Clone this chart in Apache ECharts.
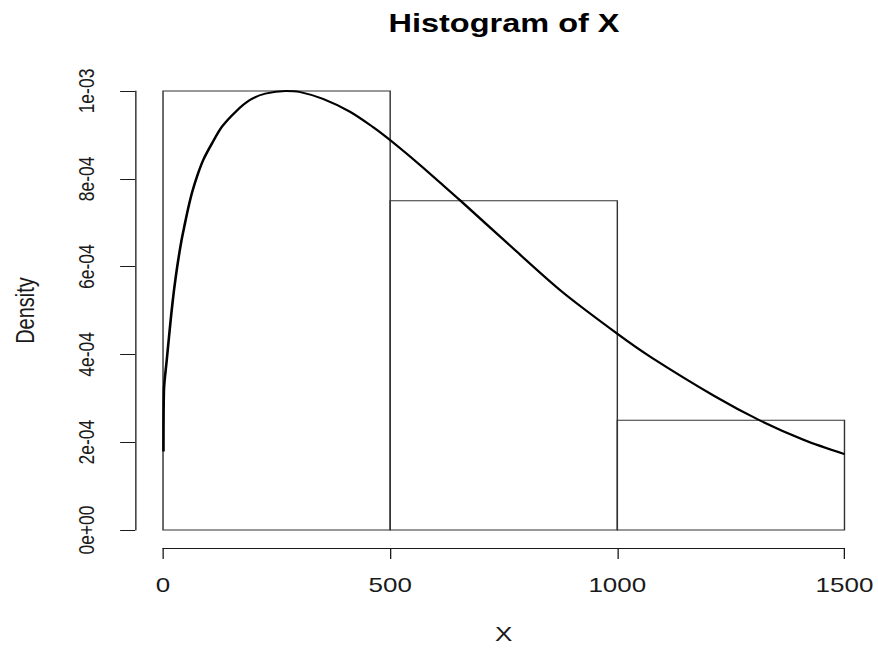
<!DOCTYPE html>
<html>
<head>
<meta charset="utf-8">
<script src="https://cdn.jsdelivr.net/npm/echarts@6/dist/echarts.min.js"></script>
<style>
  html, body { margin: 0; padding: 0; background: #fff; overflow: hidden; }
  /* the reference plot is stretched sideways, so draw narrower and widen */
  #chart { width: 675.4px; height: 649px; transform: scaleX(1.3); transform-origin: 0 0; }
</style>
</head>
<body>
<div id="chart"></div>
<script>
// histogram bins
var binStart = [0, 500, 1000]
var binEnd = [500, 1000, 1500]
var binDensity = [0.001, 0.00075, 0.00025]

// density curve
var curveX = [1, 2, 8, 13, 18, 24, 31, 40, 48, 55, 64, 75, 89, 108, 130, 162, 192, 225, 270, 300,
  352, 411, 462, 500, 564, 608, 655, 769, 878, 1000, 1075, 1214, 1313, 1411, 1500]
var curveY = [0.000179, 0.000318, 0.000385, 0.000438, 0.00049, 0.000545, 0.000598, 0.000656, 0.000697,
  0.000731, 0.000769, 0.000806, 0.000844, 0.000881, 0.000919, 0.000955, 0.00098, 0.000994, 0.001,
  0.000998, 0.000982, 0.000953, 0.000918, 0.000888, 0.000833, 0.000793, 0.00075, 0.000643, 0.000543,
  0.000447, 0.000393, 0.000305, 0.00025, 0.000205, 0.000173]

var xTicks = [0, 500, 1000, 1500]
var yTickLabels = ['0e+00', '2e-04', '4e-04', '6e-04', '8e-04', '1e-03']

var FONT = 'Liberation Sans'
var INK = '#1a1a1a'

var chart = echarts.init(document.getElementById('chart'), null, { renderer: 'svg' })

var bins = []
for (var i = 0; i < binStart.length; i++) {
  bins.push([binStart[i], binEnd[i], binDensity[i]])
}
var curve = []
for (var j = 0; j < curveX.length; j++) {
  curve.push([curveX[j], curveY[j]])
}

var option = {
  animation: false,
  title: {
    text: 'Histogram of X',
    left: 382.7,
    top: 6,
    textAlign: 'center',
    textStyle: { fontFamily: FONT, fontSize: 25, fontWeight: 'bold', color: '#000' }
  },
  grid: { left: 125.4, right: 25.4, top: 91, bottom: 115 },
  xAxis: {
    type: 'value',
    min: 0,
    max: 1500,
    interval: 500,
    offset: 18,
    name: 'X',
    nameLocation: 'middle',
    nameGap: 76,
    nameTextStyle: { fontFamily: FONT, fontSize: 20, color: INK },
    axisLine: { onZero: false, lineStyle: { color: INK, width: 1 } },
    axisTick: { length: 11, lineStyle: { color: INK } },
    axisLabel: {
      margin: 27,
      fontFamily: FONT,
      fontSize: 20,
      color: INK,
      formatter: function (v) { return xTicks.indexOf(v) >= 0 ? String(v) : '' }
    },
    splitLine: { show: false }
  },
  yAxis: {
    type: 'value',
    min: 0,
    max: 0.001,
    interval: 0.0002,
    offset: 21.5,
    name: 'Density',
    nameLocation: 'middle',
    nameGap: 75,
    nameRotate: 90,
    nameTextStyle: { fontFamily: FONT, fontSize: 20, color: INK },
    axisLine: { show: true, onZero: false, lineStyle: { color: INK, width: 1 } },
    axisTick: { show: true, length: 11.5, lineStyle: { color: INK } },
    axisLabel: {
      rotate: 90,
      margin: 29,
      fontFamily: FONT,
      fontSize: 17.5,
      color: INK,
      formatter: function (v) { return yTickLabels[Math.round(v / 0.0002)] }
    },
    splitLine: { show: false }
  },
  series: [
    {
      type: 'custom',
      data: bins,
      encode: { x: [0, 1], y: 2 },
      renderItem: function (params, api) {
        var p0 = api.coord([api.value(0), api.value(2)])
        var p1 = api.coord([api.value(1), 0])
        return {
          type: 'rect',
          shape: { x: p0[0], y: p0[1], width: p1[0] - p0[0], height: p1[1] - p0[1] },
          style: { fill: 'none', stroke: '#333', lineWidth: 1.1 }
        }
      }
    },
    {
      type: 'line',
      data: curve,
      smooth: 0.3,
      showSymbol: false,
      clip: false,
      lineStyle: { color: '#000', width: 2 }
    }
  ]
}
chart.setOption(option)
</script>
</body>
</html>
